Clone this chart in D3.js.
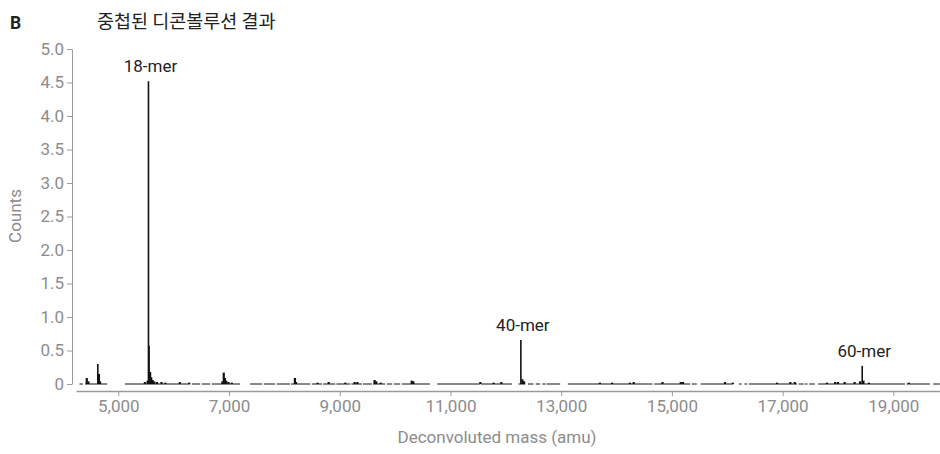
<!DOCTYPE html>
<html>
<head>
<meta charset="utf-8">
<script src="https://cdn.jsdelivr.net/npm/d3@7"></script>
<style>
  body { margin: 0; background: #fff; }
  svg text { font-family: Roboto, "Noto Sans CJK KR", sans-serif; }
  .axis text { fill: #8c8c8c; font-size: 17px; }
  .axis path, .axis line { stroke: #9a9a9a; }
</style>
</head>
<body>
<div id="chart"></div>
<script>
// y axis ticks
const yTicks = [0, 0.5, 1, 1.5, 2, 2.5, 3, 3.5, 4, 4.5, 5];
// x axis ticks (amu)
const xTicks = [5000, 7000, 9000, 11000, 13000, 15000, 17000, 19000];

// peak masses (amu) and counts
const peakMass = [4430, 4460, 4630, 4650, 4670, 5480, 5530, 5545, 5556, 5575, 5595, 5620, 5650, 5700, 5780, 5850,
  6110, 6280, 6880, 6905, 6925, 6950, 6990, 7050, 8190, 8210, 8600, 8800, 9100, 9270, 9320, 9630, 9660, 9740,
  10300, 10330, 11540, 11780, 11920, 12272, 12300, 12330, 13700, 13920, 14240, 14310, 14830, 15160, 15200,
  15960, 16100, 16900, 17140, 17220, 17800, 17950, 18000, 18120, 18300, 18400, 18438, 18460, 18560, 19280];
const peakCounts = [0.09, 0.04, 0.30, 0.15, 0.04, 0.03, 0.05, 4.52, 0.57, 0.18, 0.10, 0.06, 0.04, 0.03, 0.03, 0.02,
  0.03, 0.02, 0.04, 0.17, 0.09, 0.05, 0.03, 0.02, 0.09, 0.03, 0.02, 0.03, 0.02, 0.03, 0.03, 0.06, 0.04, 0.02,
  0.05, 0.04, 0.03, 0.02, 0.03, 0.655, 0.07, 0.04, 0.02, 0.02, 0.02, 0.03, 0.03, 0.03, 0.03,
  0.03, 0.02, 0.02, 0.03, 0.03, 0.02, 0.03, 0.03, 0.03, 0.03, 0.04, 0.27, 0.05, 0.02, 0.02];

// stretches where the baseline signal is drawn (amu)
const baseStart = [4300, 4400, 5120, 6330, 6510, 6690, 7380, 7630, 7860, 8120, 8500, 8700, 8940, 9210, 9420, 9600,
  9850, 9980, 10120, 10760, 11550, 12230, 12400, 12540, 12660, 12740, 13120, 14680, 15360, 15520, 16210, 16310,
  16390, 17290, 17400, 17480, 17640, 19240, 19720];
const baseEnd = [4360, 4800, 6300, 6480, 6660, 7200, 7600, 7830, 8100, 8470, 8680, 8920, 9190, 9400, 9580, 9820,
  9950, 10090, 10630, 11530, 12110, 12350, 12500, 12620, 12720, 12980, 14650, 15330, 15450, 16110, 16260, 16360,
  17260, 17380, 17450, 17580, 19210, 19660, 19840];

// labelled peaks
const labelText = ["18-mer", "40-mer", "60-mer"];
const labelMass = [5545, 12272, 18438];
const labelCounts = [4.52, 0.655, 0.27];

const width = 940, height = 454;

let xScale = d3.scaleLinear().domain([4236, 19843]).range([76, 940]);
let yScale = d3.scaleLinear().domain([0, 5]).range([384, 49]);

let svg = d3.select("#chart")
  .append("svg")
  .attr("width", width)
  .attr("height", height);

// y axis
svg.append("g")
  .attr("class", "axis")
  .attr("transform", "translate(72,0)")
  .call(d3.axisLeft(yScale).tickValues(yTicks).tickSize(5).tickSizeOuter(0).tickPadding(3)
    .tickFormat(d => d === 0 ? "0" : d3.format(".1f")(d)));

// x axis
let xAxis = svg.append("g")
  .attr("class", "axis")
  .attr("transform", "translate(0,391)")
  .call(d3.axisBottom(xScale).tickValues(xTicks).tickSize(5).tickSizeOuter(0).tickPadding(4)
    .tickFormat(d3.format(",")));
xAxis.select(".domain").attr("stroke-width", 1.6);

// baseline pieces
svg.append("g")
  .selectAll("line")
  .data(d3.range(baseStart.length))
  .join("line")
  .attr("x1", i => xScale(baseStart[i]))
  .attr("x2", i => xScale(baseEnd[i]))
  .attr("y1", yScale(0))
  .attr("y2", yScale(0))
  .attr("stroke", "#111")
  .attr("stroke-width", 1);

// peaks
svg.append("g")
  .selectAll("line")
  .data(d3.range(peakMass.length))
  .join("line")
  .attr("x1", i => xScale(peakMass[i]))
  .attr("x2", i => xScale(peakMass[i]))
  .attr("y1", yScale(0))
  .attr("y2", i => yScale(peakCounts[i]))
  .attr("stroke", "#111")
  .attr("stroke-width", i => peakCounts[i] > 0.2 ? 1.6 : 2.2);

// peak labels
svg.append("g")
  .selectAll("text")
  .data(d3.range(labelText.length))
  .join("text")
  .attr("x", i => xScale(labelMass[i]) + 2)
  .attr("y", i => yScale(labelCounts[i]) - 9)
  .attr("text-anchor", "middle")
  .attr("fill", "#222")
  .style("font-size", "17px")
  .text(i => labelText[i]);

// titles
svg.append("text")
  .attr("x", 10)
  .attr("y", 29)
  .attr("fill", "#222")
  .style("font-size", "17.5px")
  .style("font-weight", "bold")
  .text("B");

svg.append("text")
  .attr("x", 97)
  .attr("y", 28)
  .attr("fill", "#222")
  .style("font-size", "18.5px")
  .style("font-family", "\"Noto Sans CJK KR\", sans-serif")
  .text("중첩된 디콘볼루션 결과");

svg.append("text")
  .attr("transform", "translate(21,216) rotate(-90)")
  .attr("text-anchor", "middle")
  .attr("fill", "#8c8c8c")
  .style("font-size", "17px")
  .text("Counts");

svg.append("text")
  .attr("x", 497)
  .attr("y", 443)
  .attr("text-anchor", "middle")
  .attr("fill", "#8c8c8c")
  .style("font-size", "17px")
  .text("Deconvoluted mass (amu)");
</script>
</body>
</html>
